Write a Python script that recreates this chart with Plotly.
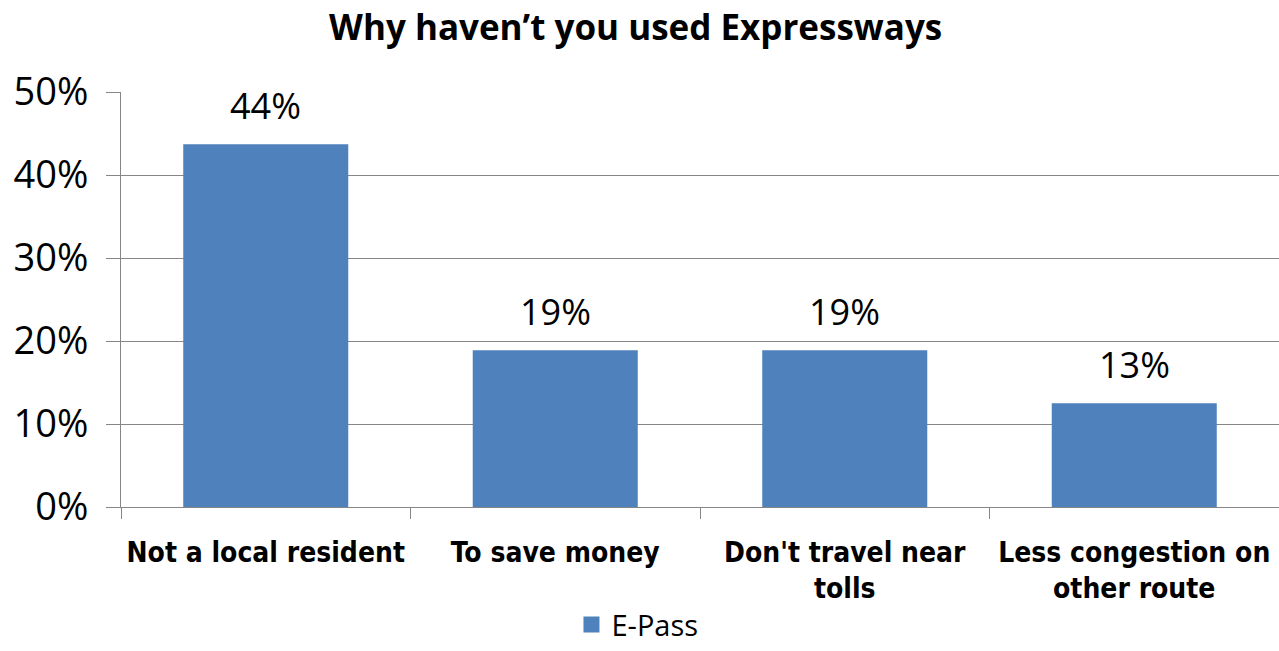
import plotly.graph_objects as go

categories = ["Not a local resident", "To save money", "Don't travel near<br>tolls", "Less congestion on<br>other route"]
values = [0.437, 0.189, 0.189, 0.125]
labels = ["44%", "19%", "19%", "13%"]
series_name = "E-Pass"
y_ticks = [0, 0.1, 0.2, 0.3, 0.4, 0.5]
y_ticktext = ["0%", "10%", "20%", "30%", "40%", "50%"]

BAR = "#4F81BD"
GRID = "#868686"
BASE_FONT = "Open Sans"
COND_FONT = "DejaVu Sans Condensed, Liberation Sans"

fig = go.Figure()
fig.add_trace(go.Bar(
    x=categories, y=values, name=series_name,
    marker=dict(color=BAR, line=dict(width=0)),
    width=0.57, showlegend=False,
))
fig.add_trace(go.Scatter(
    x=[categories[0]], y=[None], name=series_name, mode="markers",
    marker=dict(symbol="square", size=20, color=BAR), showlegend=True,
))

for c, v, t in zip(categories, values, labels):
    fig.add_annotation(x=c, y=v, text=t, showarrow=False, yanchor="bottom",
                       yshift=12, font=dict(family=BASE_FONT, size=36, color="black"))

fig.update_layout(
    width=1279, height=651,
    margin=dict(l=121, r=0, t=92, b=144, autoexpand=False),
    plot_bgcolor="white", paper_bgcolor="white",
    title=dict(text="<b>Why haven\u2019t you used Expressways</b>", x=0.497, xanchor="center",
               y=0.957, yanchor="middle",
               font=dict(family=BASE_FONT, size=35, color="black")),
    legend=dict(orientation="h", x=0.446, xanchor="center", y=-0.345, yanchor="bottom",
                font=dict(family=BASE_FONT, size=29, color="black"),
                itemwidth=30, itemsizing="trace"),
    bargap=0.43,
)
fig.update_yaxes(
    range=[0, 0.5], tickvals=y_ticks, ticktext=y_ticktext,
    showgrid=True, gridcolor=GRID, gridwidth=1,
    showline=True, linecolor=GRID, linewidth=1,
    ticks="outside", ticklen=14, tickcolor=GRID,
    ticklabelstandoff=10, automargin=False,
    tickfont=dict(family=BASE_FONT, size=38, color="black"),
    zeroline=False,
)
fig.update_xaxes(
    showline=True, linecolor=GRID, linewidth=1,
    ticks="outside", ticklen=11, tickcolor=GRID, tickson="boundaries",
    ticklabelstandoff=20, automargin=False,
    tickfont=dict(family=COND_FONT, size=28, color="black", weight="bold"),
    tickangle=0,
)

fig.write_html("out.html")
